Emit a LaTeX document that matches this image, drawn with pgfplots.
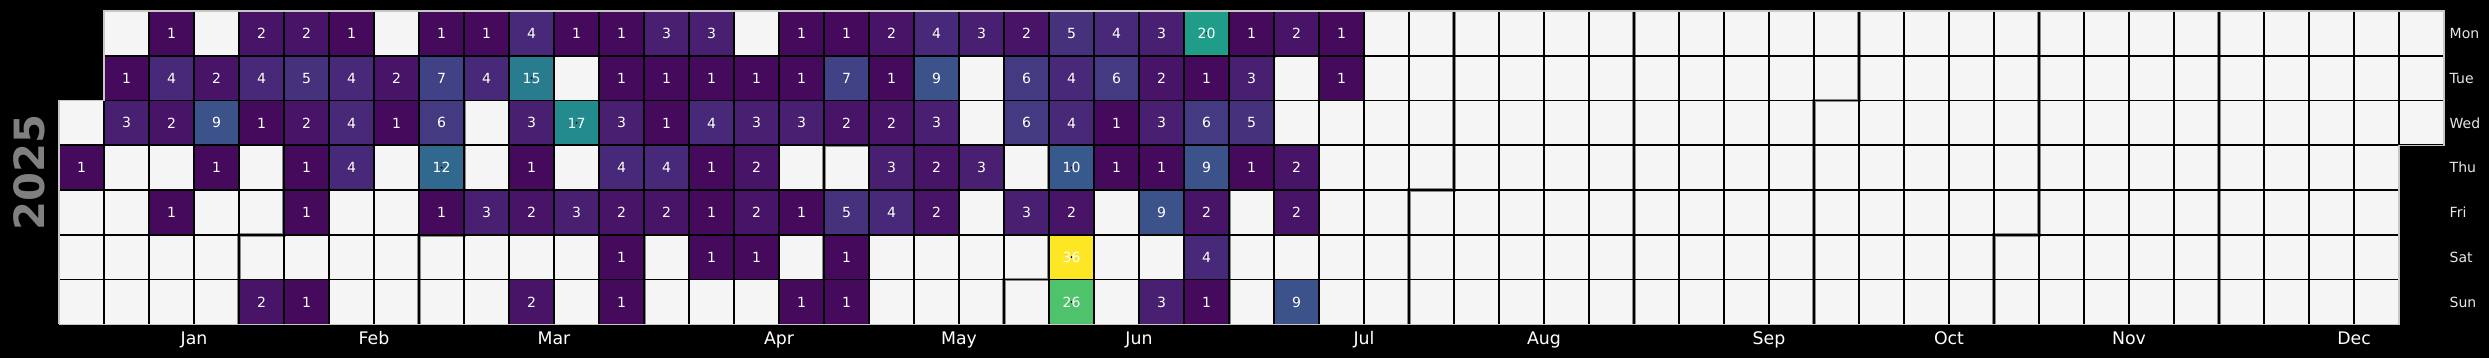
\documentclass[border=0pt]{standalone}
\usepackage{fontspec}
\setmainfont{DejaVu Sans}
\usepackage{pgfplots}
\pgfplotsset{compat=1.18}
\usepackage{pgfplotstable}
\definecolor{cellbg}{HTML}{F5F5F5}
\definecolor{daylab}{HTML}{E6E6E6}
\definecolor{monthline}{HTML}{8A8A8A}
\definecolor{yeargray}{HTML}{808080}
% viridis, value 0 .. 36
\definecolor{v1}{RGB}{70,10,93}
\definecolor{v2}{RGB}{71,20,103}
\definecolor{v3}{RGB}{72,31,113}
\definecolor{v4}{RGB}{72,40,120}
\definecolor{v5}{RGB}{70,49,125}
\definecolor{v6}{RGB}{68,58,130}
\definecolor{v7}{RGB}{65,66,134}
\definecolor{v9}{RGB}{59,82,139}
\definecolor{v10}{RGB}{55,89,141}
\definecolor{v12}{RGB}{48,104,142}
\definecolor{v15}{RGB}{40,124,142}
\definecolor{v17}{RGB}{35,138,141}
\definecolor{v20}{RGB}{32,157,136}
\definecolor{v26}{RGB}{79,195,107}
\definecolor{v36}{RGB}{253,231,37}

% c = week column (0..52), r = weekday (0=Mon .. 6=Sun), v = value
\pgfplotstableread{
c r v
0 3 1
1 1 1
1 2 3
2 0 1
2 1 4
2 2 2
2 4 1
3 1 2
3 2 9
3 3 1
4 0 2
4 1 4
4 2 1
4 6 2
5 0 2
5 1 5
5 2 2
5 3 1
5 4 1
5 6 1
6 0 1
6 1 4
6 2 4
6 3 4
7 1 2
7 2 1
8 0 1
8 1 7
8 2 6
8 3 12
8 4 1
9 0 1
9 1 4
9 4 3
10 0 4
10 1 15
10 2 3
10 3 1
10 4 2
10 6 2
11 0 1
11 2 17
11 4 3
12 0 1
12 1 1
12 2 3
12 3 4
12 4 2
12 5 1
12 6 1
13 0 3
13 1 1
13 2 1
13 3 4
13 4 2
14 0 3
14 1 1
14 2 4
14 3 1
14 4 1
14 5 1
15 1 1
15 2 3
15 3 2
15 4 2
15 5 1
16 0 1
16 1 1
16 2 3
16 4 1
16 6 1
17 0 1
17 1 7
17 2 2
17 4 5
17 5 1
17 6 1
18 0 2
18 1 1
18 2 2
18 3 3
18 4 4
19 0 4
19 1 9
19 2 3
19 3 2
19 4 2
20 0 3
20 3 3
21 0 2
21 1 6
21 2 6
21 4 3
22 0 5
22 1 4
22 2 4
22 3 10
22 4 2
22 5 36
22 6 26
23 0 4
23 1 6
23 2 1
23 3 1
24 0 3
24 1 2
24 2 3
24 3 1
24 4 9
24 6 3
25 0 20
25 1 1
25 2 6
25 3 9
25 4 2
25 5 4
25 6 1
26 0 1
26 1 3
26 2 5
26 3 1
27 0 2
27 3 2
27 4 2
27 6 9
28 0 1
28 1 1
}\cells

\begin{document}
\begin{tikzpicture}
% black page background (axis origin sits at the picture origin)
\fill[black] (-17.70pt,-10.105pt) rectangle (729pt,97.297pt);
\begin{axis}[
  x=13.5pt, y=13.428pt,
  xmin=0, xmax=53, ymin=0, ymax=7,
  enlargelimits=false,
  clip=false,
  axis line style={draw=none},
  major tick length=0pt,
  xtick={3,7,11,16,20,24,29,33,38,42,46,51},
  xticklabels={Jan,Feb,Mar,Apr,May,Jun,Jul,Aug,Sep,Oct,Nov,Dec},
  xticklabel style={font=\fontsize{5.2}{6}\selectfont, text=white, inner sep=0pt, anchor=north, yshift=-2pt},
  ytick={0.5,1.5,2.5,3.5,4.5,5.5,6.5},
  yticklabels={Sun,Sat,Fri,Thu,Wed,Tue,Mon},
  yticklabel pos=right,
  yticklabel style={font=\fontsize{4.2}{5}\selectfont, text=daylab, inner sep=0pt, anchor=west, xshift=1.5pt},
]
% days of the year (no data) -> light grey
\addplot[fill=cellbg, draw=none] coordinates {(0,0) (0,5) (1,5) (1,7) (53,7) (53,4) (52,4) (52,0) (0,0)};
% month boundaries
\addplot[monthline, line width=1.1pt] coordinates {(4,0) (4,2) (5,2) (5,7)};
\addplot[monthline, line width=1.1pt] coordinates {(8,0) (8,2) (9,2) (9,7)};
\addplot[monthline, line width=1.1pt] coordinates {(13,0) (13,6) (14,6) (14,7)};
\addplot[monthline, line width=1.1pt] coordinates {(17,0) (17,4) (18,4) (18,7)};
\addplot[monthline, line width=1.1pt] coordinates {(21,0) (21,1) (22,1) (22,7)};
\addplot[monthline, line width=1.1pt] coordinates {(26,0) (26,6) (27,6) (27,7)};
\addplot[monthline, line width=1.1pt] coordinates {(30,0) (30,3) (31,3) (31,7)};
\addplot[monthline, line width=1.1pt] coordinates {(35,0) (35,7)};
\addplot[monthline, line width=1.1pt] coordinates {(39,0) (39,5) (40,5) (40,7)};
\addplot[monthline, line width=1.1pt] coordinates {(43,0) (43,2) (44,2) (44,7)};
\addplot[monthline, line width=1.1pt] coordinates {(48,0) (48,7)};
% valued days: coloured squares
\addplot[scatter, only marks, mark=square*, mark size=6.75pt,
  scatter src=explicit symbolic,
  scatter/classes={
    1={mark=square*, draw=v1, fill=v1},
    2={mark=square*, draw=v2, fill=v2},
    3={mark=square*, draw=v3, fill=v3},
    4={mark=square*, draw=v4, fill=v4},
    5={mark=square*, draw=v5, fill=v5},
    6={mark=square*, draw=v6, fill=v6},
    7={mark=square*, draw=v7, fill=v7},
    9={mark=square*, draw=v9, fill=v9},
    10={mark=square*, draw=v10, fill=v10},
    12={mark=square*, draw=v12, fill=v12},
    15={mark=square*, draw=v15, fill=v15},
    17={mark=square*, draw=v17, fill=v17},
    20={mark=square*, draw=v20, fill=v20},
    26={mark=square*, draw=v26, fill=v26},
    36={mark=square*, draw=v36, fill=v36}},
] table[x expr=\thisrow{c}+0.5, y expr=6.5-\thisrow{r}, meta=v]{\cells};
\node[rotate=90, font=\bfseries\fontsize{12.5}{14}\selectfont, text=yeargray] at (axis cs:-0.656,3.40) {2025};
\coordinate (bl) at (axis cs:-1.3111,-0.7525);
\coordinate (tr) at (axis cs:54.0,7.2458);
\end{axis}
% overlay axis: cell grid and value labels on top of the squares
\begin{axis}[
  x=13.5pt, y=13.428pt,
  xmin=0, xmax=53, ymin=0, ymax=7,
  enlargelimits=false,
  clip=false,
  hide axis,
]
\pgfplotsinvokeforeach{1,...,52}{\addplot[black, line width=0.5pt] coordinates {(#1,0) (#1,7)};}
\pgfplotsinvokeforeach{1,...,6}{\addplot[black, line width=0.5pt] coordinates {(0,#1) (53,#1)};}
\addplot[draw=gray!45, line width=0.4pt] coordinates {(0,0) (0,5) (1,5) (1,7) (53,7) (53,4) (52,4) (52,0) (0,0)};
\addplot[only marks, mark=*, mark size=0.01pt, mark options={draw=none, fill=none},
  point meta=explicit symbolic,
  nodes near coords,
  nodes near coords align={center},
  every node near coord/.append style={font=\fontsize{4.2}{5}\selectfont, text=white, anchor=center, inner sep=0pt},
] table[x expr=\thisrow{c}+0.5, y expr=6.5-\thisrow{r}, meta=v]{\cells};
\end{axis}
\pgfresetboundingbox
\useasboundingbox (bl) rectangle (tr);
\end{tikzpicture}
\end{document}
